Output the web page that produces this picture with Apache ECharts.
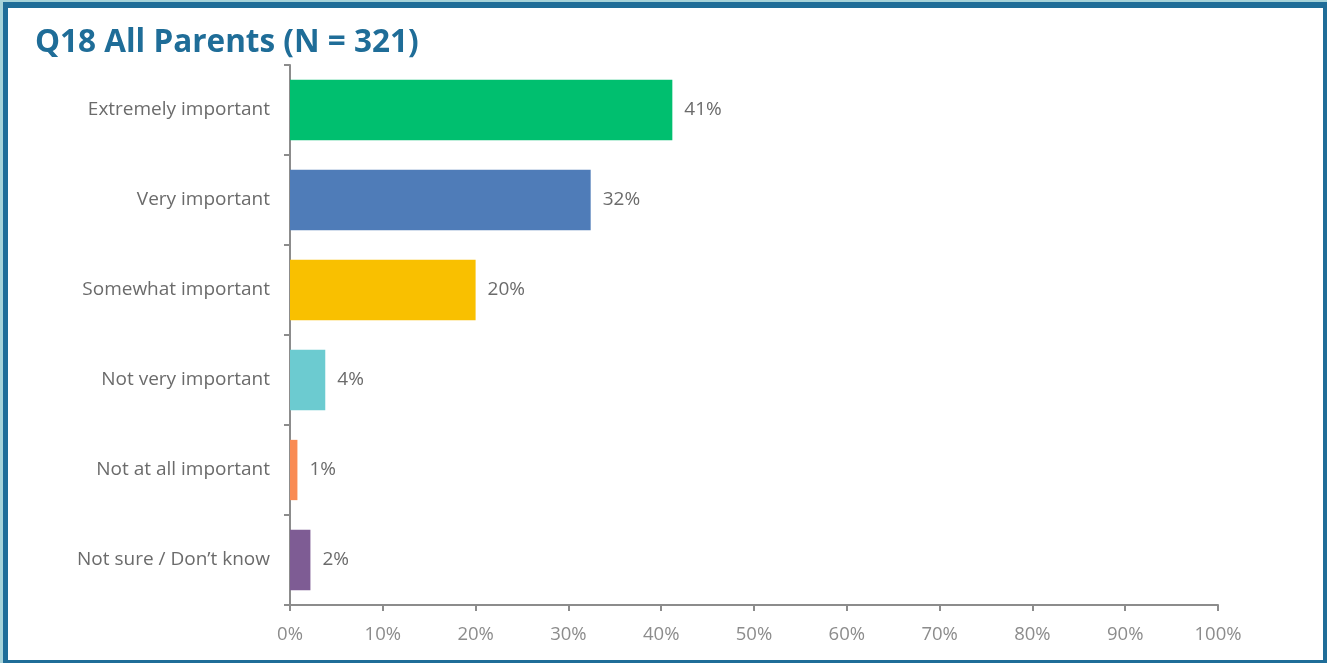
<!DOCTYPE html>
<html>
<head>
<meta charset="utf-8">
<script src="https://cdn.jsdelivr.net/npm/echarts@6/dist/echarts.min.js"></script>
<style>
html,body{margin:0;padding:0;width:1327px;height:663px;overflow:hidden;background:#a6d3d9;}
#frame{position:absolute;left:3px;top:2px;width:1324px;height:661px;box-sizing:border-box;background:#fff;
border-style:solid;border-color:#1f6d98;border-width:6px 4px 3px 5px;}
#chart{position:absolute;left:0;top:0;width:1327px;height:663px;}
</style>
</head>
<body>
<div id="frame"></div>
<div id="chart"></div>
<script>
const titleText = "Q18 All Parents (N = 321)";
const categories = ["Extremely important","Very important","Somewhat important","Not very important","Not at all important","Not sure / Don\u2019t know"];
const values = [41.2, 32.4, 20.0, 3.8, 0.8, 2.2];
const labels = ["41%","32%","20%","4%","1%","2%"];
const colors = ["#00bf6f","#4f7cb8","#f9c000","#6ccbd0","#f98b54","#7e5c94"];
const xTicks = [0,10,20,30,40,50,60,70,80,90,100];

const font = 'Open Sans';
const chart = echarts.init(document.getElementById('chart'), null, {renderer:'canvas'});
chart.setOption({
  backgroundColor:'transparent',
  animation:false,
  title:{text:titleText,left:30,top:22,textStyle:{fontFamily:font,fontWeight:'bold',fontSize:31.5,color:'#1f6d98'}},
  grid:{left:290,right:109,top:65,bottom:58,containLabel:false},
  xAxis:{type:'value',min:0,max:100,interval:10,
    axisLine:{show:true,lineStyle:{color:'#8c8c8c',width:2}},
    axisTick:{show:true,length:6,lineStyle:{color:'#8c8c8c',width:2}},
    splitLine:{show:false},
    axisLabel:{formatter:v=>v+'%',color:'#8c8c8c',fontFamily:font,fontSize:18.5,margin:20}},
  yAxis:{type:'category',inverse:true,data:categories,
    axisLine:{show:true,lineStyle:{color:'#8c8c8c',width:2}},
    axisTick:{show:true,length:6,lineStyle:{color:'#8c8c8c',width:2}},
    axisLabel:{color:'#6b6b6b',fontFamily:font,fontSize:19,margin:20,padding:[6,0,0,0]}},
  series:[{type:'bar',barCategoryGap:'33%',
    data:values.map((v,i)=>({value:v,itemStyle:{color:colors[i]}})),
    label:{show:true,position:'right',distance:12,formatter:p=>labels[p.dataIndex],
      color:'#6b6b6b',fontFamily:font,fontSize:19,padding:[6,0,0,0]}}]
});
</script>
</body>
</html>
